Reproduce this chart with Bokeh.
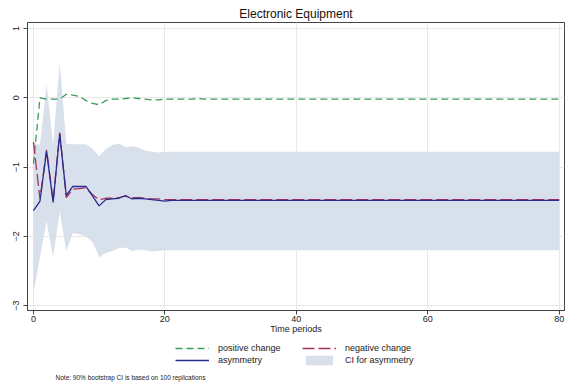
from bokeh.plotting import figure
from bokeh.models import Range1d, Legend, LegendItem, Label, FixedTicker
from bokeh.layouts import column
from bokeh.embed import file_html
from bokeh.resources import INLINE

NAN = float("nan")
periods = list(range(81))

positive_change = [-0.95, 0.00, -0.02, -0.02, -0.02, 0.05, 0.04, 0.02, -0.04, -0.08,
                   -0.10, -0.04, -0.02, -0.02, -0.01, 0.00, -0.01, -0.02, -0.03, -0.03,
                   -0.02, -0.02, -0.02, -0.02, -0.02, -0.01, -0.02, -0.02, -0.02, -0.02,
                   -0.02, -0.02, -0.02, -0.02, -0.02, -0.02, -0.02, -0.02, -0.02, -0.02,
                   -0.02, -0.02, -0.02, -0.02, -0.02, -0.02, -0.02, -0.02, -0.02, -0.02,
                   -0.02, -0.02, -0.02, -0.02, -0.02, -0.02, -0.02, -0.02, -0.02, -0.02,
                   -0.02, -0.02, -0.02, -0.02, -0.02, -0.02, -0.02, -0.02, -0.02, -0.02,
                   -0.02, -0.02, -0.02, -0.02, -0.02, -0.02, -0.02, -0.02, -0.02, -0.02,
                   -0.02]

negative_change = [-0.64, -1.46, -0.75, -1.49, -0.50, -1.44, -1.32, -1.31, -1.30, -1.40,
                   -1.47, -1.45, -1.45, -1.44, -1.42, -1.44, -1.44, -1.45, -1.46, -1.46,
                   -1.47, -1.47, -1.47, -1.47, -1.47, -1.47, -1.47, -1.47, -1.47, -1.47,
                   -1.47, -1.47, -1.47, -1.47, -1.47, -1.47, -1.47, -1.47, -1.47, -1.47,
                   -1.47, -1.47, -1.47, -1.47, -1.47, -1.47, -1.47, -1.47, -1.47, -1.47,
                   -1.47, -1.47, -1.47, -1.47, -1.47, -1.47, -1.47, -1.47, -1.47, -1.47,
                   -1.47, -1.47, -1.47, -1.47, -1.47, -1.47, -1.47, -1.47, -1.47, -1.47,
                   -1.47, -1.47, -1.47, -1.47, -1.47, -1.47, -1.47, -1.47, -1.47, -1.47,
                   -1.47]

asymmetry = [-1.63, -1.49, -0.77, -1.51, -0.52, -1.41, -1.28, -1.28, -1.28, -1.42,
             -1.56, -1.47, -1.46, -1.45, -1.41, -1.46, -1.45, -1.46, -1.47, -1.48,
             -1.49, -1.48, -1.48, -1.48, -1.48, -1.48, -1.48, -1.48, -1.48, -1.48,
             -1.48, -1.48, -1.48, -1.48, -1.48, -1.48, -1.48, -1.48, -1.48, -1.48,
             -1.48, -1.48, -1.48, -1.48, -1.48, -1.48, -1.48, -1.48, -1.48, -1.48,
             -1.48, -1.48, -1.48, -1.48, -1.48, -1.48, -1.48, -1.48, -1.48, -1.48,
             -1.48, -1.48, -1.48, -1.48, -1.48, -1.48, -1.48, -1.48, -1.48, -1.48,
             -1.48, -1.48, -1.48, -1.48, -1.48, -1.48, -1.48, -1.48, -1.48, -1.48,
             -1.48]

ci_upper = [-0.64, -0.68, 0.20, -0.68, 0.51, -0.66, -0.67, -0.67, -0.67, -0.74,
            -0.84, -0.74, -0.68, -0.66, -0.71, -0.70, -0.72, -0.76, -0.78, -0.79,
            -0.78, -0.78, -0.78, -0.78, -0.78, -0.78, -0.78, -0.78, -0.78, -0.78,
            -0.78, -0.78, -0.78, -0.78, -0.78, -0.78, -0.78, -0.78, -0.78, -0.78,
            -0.78, -0.78, -0.78, -0.78, -0.78, -0.78, -0.78, -0.78, -0.78, -0.78,
            -0.78, -0.78, -0.78, -0.78, -0.78, -0.78, -0.78, -0.78, -0.78, -0.78,
            -0.78, -0.78, -0.78, -0.78, -0.78, -0.78, -0.78, -0.78, -0.78, -0.78,
            -0.78, -0.78, -0.78, -0.78, -0.78, -0.78, -0.78, -0.78, -0.78, -0.78,
            -0.78]

ci_lower = [-2.83, -2.30, -1.78, -2.30, -1.64, -2.21, -1.95, -1.97, -2.00, -2.08,
            -2.30, -2.24, -2.21, -2.17, -2.16, -2.21, -2.19, -2.20, -2.22, -2.21,
            -2.20, -2.20, -2.20, -2.20, -2.20, -2.20, -2.20, -2.20, -2.20, -2.20,
            -2.20, -2.20, -2.20, -2.20, -2.20, -2.20, -2.20, -2.20, -2.20, -2.20,
            -2.20, -2.20, -2.20, -2.20, -2.20, -2.20, -2.20, -2.20, -2.20, -2.20,
            -2.20, -2.20, -2.20, -2.20, -2.20, -2.20, -2.20, -2.20, -2.20, -2.20,
            -2.20, -2.20, -2.20, -2.20, -2.20, -2.20, -2.20, -2.20, -2.20, -2.20,
            -2.20, -2.20, -2.20, -2.20, -2.20, -2.20, -2.20, -2.20, -2.20, -2.20,
            -2.20]

x_ticks = [0, 20, 40, 60, 80]
y_ticks = [-3, -2, -1, 0, 1]

title_text = "Electronic Equipment"
x_label = "Time periods"
note_text = "Note: 90% bootstrap CI is based on 100 replications"
legend_labels = ["positive change", "negative change", "asymmetry", "CI for asymmetry"]

FONT = "Liberation Sans"
GREEN = "#3a9d5d"
RED = "#a8325e"
NAVY = "#2b2b8f"
BAND = "#d8e0ec"
POS_DASH = "7 4"
NEG_DASH = "12 4"
LW = 1.3

# ---- main chart ----
p = figure(width=575, height=338, output_backend="svg", toolbar_location=None,
           x_range=Range1d(-0.9, 80.8), y_range=Range1d(-3.07, 1.087),
           min_border_left=27, min_border_right=11, min_border_top=22, min_border_bottom=28)
p.background_fill_color = "white"
p.border_fill_color = "white"
p.outline_line_color = "#444444"
p.outline_line_width = 1

p.title.text = title_text
p.title.align = "center"
p.title.text_font = FONT
p.title.text_font_size = "12px"
p.title.text_font_style = "normal"
p.title.text_color = "#111111"
p.title.standoff = 3

p.varea(x=periods, y1=ci_lower, y2=ci_upper, fill_color=BAND, fill_alpha=1.0)
p.line(periods, positive_change, line_color=GREEN, line_width=LW, line_dash=POS_DASH)
p.line(periods, negative_change, line_color=RED, line_width=LW, line_dash=NEG_DASH)
p.line(periods, asymmetry, line_color=NAVY, line_width=LW)

for ax in (p.xaxis[0], p.yaxis[0]):
    ax.axis_line_color = "#444444"
    ax.major_tick_line_color = "#444444"
    ax.major_tick_out = 4
    ax.major_tick_in = 0
    ax.minor_tick_out = 0
    ax.minor_tick_in = 0
    ax.major_label_text_font = FONT
    ax.major_label_text_font_size = "9px"
    ax.major_label_text_color = "#222222"
    ax.major_label_standoff = 2

p.xaxis[0].ticker = FixedTicker(ticks=x_ticks)
p.yaxis[0].ticker = FixedTicker(ticks=y_ticks)
p.yaxis[0].major_label_orientation = "vertical"
p.yaxis[0].major_label_standoff = 4
p.xaxis[0].major_label_standoff = 1
p.xaxis[0].axis_label = x_label
p.xaxis[0].axis_label_text_font = FONT
p.xaxis[0].axis_label_text_font_size = "9px"
p.xaxis[0].axis_label_text_font_style = "normal"
p.xaxis[0].axis_label_standoff = -1
p.xaxis[0].axis_label_text_color = "#222222"

p.xgrid[0].ticker = FixedTicker(ticks=x_ticks)
p.ygrid[0].ticker = FixedTicker(ticks=y_ticks)
p.grid.grid_line_color = "#e8e8e8"
p.grid.grid_line_width = 1

# ---- legend + note strip ----
p2 = figure(width=575, height=47, output_backend="svg", toolbar_location=None,
            x_range=Range1d(0, 575), y_range=Range1d(0, 47),
            x_axis_type=None, y_axis_type=None,
            min_border_left=0, min_border_right=0, min_border_top=0, min_border_bottom=0)
p2.outline_line_color = None
p2.grid.visible = False
p2.background_fill_color = "white"
p2.border_fill_color = "white"

# legend key glyphs only (no visible data)
g_pos = p2.line([NAN], [NAN], line_color=GREEN, line_width=LW, line_dash=POS_DASH)
g_neg = p2.line([NAN], [NAN], line_color=RED, line_width=LW, line_dash=NEG_DASH)
g_asy = p2.line([NAN], [NAN], line_color=NAVY, line_width=LW)
g_band = p2.varea(x=[NAN], y1=[NAN], y2=[NAN], fill_color=BAND, fill_alpha=1.0)

legend = Legend(items=[LegendItem(label=legend_labels[0], renderers=[g_pos]),
                       LegendItem(label=legend_labels[2], renderers=[g_asy]),
                       LegendItem(label=legend_labels[1], renderers=[g_neg]),
                       LegendItem(label=legend_labels[3], renderers=[g_band])],
                ncols=2, location=(148, 19),
                glyph_width=34, glyph_height=12, label_standoff=9, spacing=0,
                label_width=84, label_height=12,
                padding=0, margin=0, border_line_color=None, background_fill_alpha=0,
                label_text_font=FONT, label_text_font_size="9px", label_text_color="#222222")
p2.add_layout(legend, "center")

p2.add_layout(Label(x=30, y=8, text=note_text, text_align="left", text_baseline="middle",
                    text_font=FONT, text_font_size="6.5px", text_color="#222222"))

layout = column(p, p2, spacing=0)
open("out.html", "w").write(file_html(layout, INLINE))
